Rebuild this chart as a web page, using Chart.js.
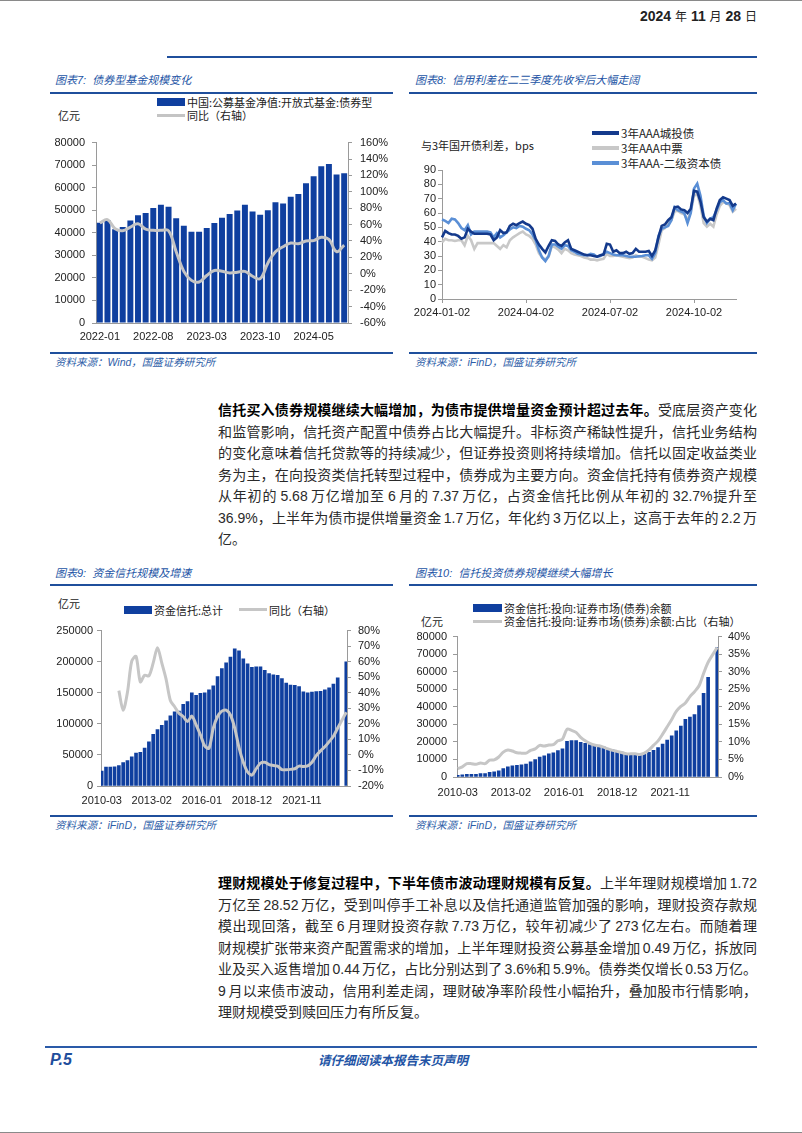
<!DOCTYPE html>
<html lang="zh-CN">
<head>
<meta charset="utf-8">
<title>信托与理财</title>
<script src="https://cdn.jsdelivr.net/npm/chart.js@4.4.1/dist/chart.umd.min.js"></script>
<style>
  html, body { margin: 0; padding: 0; background: #fff; }
  body { position: relative; width: 802px; height: 1133px; overflow: hidden; font-family: "Liberation Sans", "Noto Sans CJK SC", sans-serif; color: #222; }
  .edge { position: absolute; left: 0; width: 802px; height: 1px; background: #8a8a8a; }
  .rule { position: absolute; height: 2px; background: #1f4f9c; }
  .title { position: absolute; font-size: 11px; font-style: italic; color: #2354a5; line-height: 14px; white-space: nowrap; }
  .source { position: absolute; font-size: 10.5px; font-style: italic; color: #2e5ea8; line-height: 14px; white-space: nowrap; }
  .chart { position: absolute; }
  .lg { position: absolute; font-size: 11px; line-height: 14px; color: #222; white-space: nowrap; font-family: "Noto Sans CJK SC", sans-serif; }
  .sw { position: absolute; }
  .para { position: absolute; left: 218px; width: 539px; font-size: 14px; color: #2a2a2a; }
  .para div { height: 21.5px; line-height: 21.5px; white-space: nowrap; text-align: justify; text-align-last: justify; word-spacing: -1.5px; }
  .para div.last { text-align-last: left; }
  .para b { color: #000; }
</style>
</head>
<body>
<div class="edge" style="top:0"></div>
<div class="edge" style="top:1132px"></div>

<!-- header -->
<div style="position:absolute;right:45px;top:8px;font-size:14px;line-height:16px;white-space:nowrap;">
  <b>2024</b> <span style="font-size:12px">年</span> <b>11</b> <span style="font-size:12px">月</span> <b>28</b> <span style="font-size:12px">日</span>
</div>
<div class="rule" style="left:167px;width:590px;top:56px;"></div>

<!-- panel 7 -->
<div class="title" style="left:55px;top:73px;">图表7:&nbsp; 债券型基金规模变化</div>
<div class="rule" style="left:50px;width:343px;top:92px;"></div>
<div class="sw" style="left:157px;top:98px;width:28px;height:8px;background:#0f3f9f"></div>
<div class="lg" style="left:187px;top:95px;">中国:公募基金净值:开放式基金:债券型</div>
<div class="sw" style="left:157px;top:114px;width:28px;height:3px;background:#c4c4c4"></div>
<div class="lg" style="left:187px;top:108px;">同比（右轴）</div>
<div class="lg" style="left:58px;top:108px;">亿元</div>
<div class="chart" style="left:50px;top:128px;width:345px;height:222px;"><canvas id="fundChart"></canvas></div>
<div class="rule" style="left:50px;width:343px;top:352px;"></div>
<div class="source" style="left:55px;top:355px;">资料来源：Wind，国盛证券研究所</div>

<!-- panel 8 -->
<div class="title" style="left:415px;top:73px;">图表8:&nbsp; 信用利差在二三季度先收窄后大幅走阔</div>
<div class="rule" style="left:409px;width:348px;top:92px;"></div>
<div class="sw" style="left:592px;top:131px;width:27px;height:4px;background:#143a8c"></div>
<div class="lg" style="left:621px;top:126px;font-size:11.5px;">3年AAA城投债</div>
<div class="sw" style="left:592px;top:146px;width:27px;height:4px;background:#c8c8c8"></div>
<div class="lg" style="left:621px;top:141px;font-size:11.5px;">3年AAA中票</div>
<div class="sw" style="left:592px;top:161px;width:27px;height:4px;background:#5a8fd6"></div>
<div class="lg" style="left:621px;top:156px;font-size:11.5px;">3年AAA-二级资本债</div>
<div class="lg" style="left:421px;top:138px;">与3年国开债利差，bps</div>
<div class="chart" style="left:405px;top:160px;width:352px;height:165px;"><canvas id="spreadChart"></canvas></div>
<div class="rule" style="left:409px;width:348px;top:352px;"></div>
<div class="source" style="left:415px;top:355px;">资料来源：iFinD，国盛证券研究所</div>

<!-- paragraph 1 -->
<div class="para" style="top:400px;">
  <div><b>信托买入债券规模继续大幅增加，为债市提供增量资金预计超过去年。</b>受底层资产变化</div>
  <div>和监管影响，信托资产配置中债券占比大幅提升。非标资产稀缺性提升，信托业务结构</div>
  <div>的变化意味着信托贷款等的持续减少，但证券投资则将持续增加。信托以固定收益类业</div>
  <div>务为主，在向投资类信托转型过程中，债券成为主要方向。资金信托持有债券资产规模</div>
  <div>从年初的 5.68 万亿增加至 6 月的 7.37 万亿，占资金信托比例从年初的 32.7%提升至</div>
  <div>36.9%，上半年为债市提供增量资金 1.7 万亿，年化约 3 万亿以上，这高于去年的 2.2 万</div>
  <div class="last">亿。</div>
</div>

<!-- panel 9 -->
<div class="title" style="left:55px;top:566px;">图表9:&nbsp; 资金信托规模及增速</div>
<div class="rule" style="left:50px;width:343px;top:584px;"></div>
<div class="lg" style="left:58px;top:596px;">亿元</div>
<div class="sw" style="left:124px;top:606px;width:28px;height:8px;background:#0f3f9f"></div>
<div class="lg" style="left:154px;top:603px;">资金信托:总计</div>
<div class="sw" style="left:239px;top:608px;width:28px;height:3px;background:#c6c6c6"></div>
<div class="lg" style="left:269px;top:603px;">同比（右轴）</div>
<div class="chart" style="left:50px;top:617px;width:345px;height:195px;"><canvas id="trustChart"></canvas></div>
<div class="rule" style="left:50px;width:343px;top:815px;"></div>
<div class="source" style="left:55px;top:818px;">资料来源：iFinD，国盛证券研究所</div>

<!-- panel 10 -->
<div class="title" style="left:415px;top:566px;">图表10:&nbsp; 信托投资债券规模继续大幅增长</div>
<div class="rule" style="left:409px;width:348px;top:584px;"></div>
<div class="sw" style="left:473px;top:604px;width:29px;height:8px;background:#0f3f9f"></div>
<div class="lg" style="left:504px;top:601px;">资金信托:投向:证券市场(债券)余额</div>
<div class="sw" style="left:473px;top:620px;width:29px;height:3px;background:#c6c6c6"></div>
<div class="lg" style="left:504px;top:614px;">资金信托:投向:证券市场(债券)余额:占比（右轴）</div>
<div class="lg" style="left:421px;top:614px;">亿元</div>
<div class="chart" style="left:405px;top:624px;width:352px;height:182px;"><canvas id="bondChart"></canvas></div>
<div class="rule" style="left:409px;width:348px;top:815px;"></div>
<div class="source" style="left:415px;top:818px;">资料来源：iFinD，国盛证券研究所</div>

<!-- paragraph 2 -->
<div class="para" style="top:873px;">
  <div><b>理财规模处于修复过程中，下半年债市波动理财规模有反复。</b>上半年理财规模增加 1.72</div>
  <div>万亿至 28.52 万亿，受到叫停手工补息以及信托通道监管加强的影响，理财投资存款规</div>
  <div>模出现回落，截至 6 月理财投资存款 7.73 万亿，较年初减少了 273 亿左右。而随着理</div>
  <div>财规模扩张带来资产配置需求的增加，上半年理财投资公募基金增加 0.49 万亿，拆放同</div>
  <div>业及买入返售增加 0.44 万亿，占比分别达到了 3.6%和 5.9%。债券类仅增长 0.53 万亿。</div>
  <div>9 月以来债市波动，信用利差走阔，理财破净率阶段性小幅抬升，叠加股市行情影响，</div>
  <div class="last">理财规模受到赎回压力有所反复。</div>
</div>

<!-- footer -->
<div class="rule" style="left:45px;width:712px;top:1046px;background:#2a5aa8"></div>
<div style="position:absolute;left:50px;top:1051px;font-size:16px;font-weight:bold;font-style:italic;color:#1f4e9c;line-height:18px;">P.5</div>
<div style="position:absolute;left:318px;top:1052px;font-size:12.5px;font-weight:bold;font-style:italic;color:#2354a5;line-height:16px;font-family:'Noto Sans CJK SC',sans-serif;">请仔细阅读本报告末页声明</div>

<script>
// ---- 图表7 债券型基金 ----
const fundMonths = ['2022-01','2022-02','2022-03','2022-04','2022-05','2022-06','2022-07','2022-08','2022-09','2022-10','2022-11','2022-12',
  '2023-01','2023-02','2023-03','2023-04','2023-05','2023-06','2023-07','2023-08','2023-09','2023-10','2023-11','2023-12',
  '2024-01','2024-02','2024-03','2024-04','2024-05','2024-06','2024-07','2024-08','2024-09'];
const fundScale = [44500,45700,41600,42600,45500,47800,48800,51000,52400,51600,46500,43100,
  40500,40500,42100,44400,46700,48300,49900,52400,49400,48000,50000,53600,
  53000,56000,57200,62000,65100,69500,70500,65900,66400];
const fundYoy = [62,66,55,52.5,57,61,54.5,53,53,52.5,27,3,
  -8,-10,-2,4,3,1,2,3,-3,-6,13,27,
  33,37.5,36.7,40,40.5,44.6,42,27,35];
const fundTickEvery = 7;

// ---- 图表8 信用利差 (2024, MMDD) ----
const spreadDays = ('0102 0105 0109 0112 0116 0119 0123 0126 0130 0202 0206 0209 0213 0216 0220 0223 0227 0301 0305 0308 ' +
  '0312 0315 0319 0322 0326 0329 0402 0405 0409 0412 0416 0419 0423 0426 0430 0503 0507 0510 0514 0517 0521 0524 0528 0531 ' +
  '0604 0607 0611 0614 0618 0621 0625 0628 0702 0705 0709 0712 0716 0719 0723 0726 0730 0802 0806 0809 0813 0816 0820 0823 ' +
  '0827 0830 0903 0906 0910 0913 0917 0920 0924 0927 1002 1004 1008 1011 1015 1018 1022 1025 1029 1101 1105 1108 1112 1115').split(' ');
const spreadTicks = ['2024-01-02', '2024-04-02', '2024-07-02', '2024-10-02'];
const spreadUrban = [43,47.5,46,45,45,44,42,43,49,47,45.5,45.5,45.5,45.5,45.5,45,41,43,48,46,
  46.5,51,52.5,51.5,53,54,52.5,51.5,49,42,38,35,32.5,37,41,40.5,38,37,39.5,41,
  35,34,33,32,31,30.5,30.5,30,29.5,30.5,31,38.5,38,33,34,32,32,33,31.5,32,
  35,33,33,33,33.5,30,34,43,51,52,55,57,64,64.5,62.5,62,60,63,75.5,75,
  68,57,54,56,55,63,69,71,70,69,65,66.5];
const spreadMtn = [39.5,42,41,41,40.5,41,41,37.5,44,41,35,39,39,39,39,39,39,37,35,37.5,
  36,41,43,44.5,46,47,45,44,42,38,32,29,27.5,29.5,37,36,34.5,32,35,34,
  32,31,30.5,30,29,28.5,27.5,27.5,27,27.5,28,31.5,30,30,30.5,30,29.5,29,28.5,29,
  30.5,29.5,29.5,28.5,27.5,27,29,38,48,49.5,53,55,61,61.5,60,59,55,61,72,73.5,
  65,53,50.5,52.5,50.5,59,65,67.5,67,65.5,61,63];
const spreadBank = [55.5,54.5,53,56,55.5,53,49.5,48,51.5,45,47,47,47,47,47,46.5,43,46,43,44.5,
  46.5,48.5,50,49.5,51,50.5,49,48,45,41,34,29,26.5,30,38,38,36.5,35,37.5,37,
  34,33,31.5,31,30.5,30.5,31.5,31,29.5,30,31.5,33,32,31,30.5,30.5,30.5,30,29.5,29.5,
  29.5,29.8,30,30.5,30.5,28,32,44,49,50,51,55,64,62,61,60,53,60,77,80.5,
  72,58,53,56,57,62,67.5,69,66.5,67,62,66.5];

// ---- 图表9/10 资金信托 (季度, 2010-03 至 2024-06) ----
const trustStart = '2010-03';
const trustEnd = '2024-06';
const trustTicks = ['2010-03', '2013-02', '2016-01', '2018-12', '2021-11'];
const trustTotal = [24000,30400,30400,31000,33000,37700,41000,47000,53000,54000,
  61000,71000,83000,90700,97500,105000,112700,119500,120500,131500,
  136000,150000,146000,149000,150000,154600,161000,176000,189000,198000,
  207500,220600,217500,204400,196500,191000,191800,191800,186000,181000,
  178700,178000,173000,165600,162500,162000,160000,151500,150000,151000,
  152000,152500,154600,157800,164000,174000,null,199700];
const trustYoy = [null,null,null,null,41.4,28.8,40.3,60.3,63.4,47,
  51.3,50.9,59.2,69,59.2,48.8,35,31,26.8,24.7,
  21.5,25,19.4,13,5.8,4.3,17.3,24.7,28.2,28.8,
  25.7,17.3,4.7,-4.7,-11,-13,-8.9,-5.3,-4.7,-6.2,
  -6.8,-7.2,-9.5,-9.5,-9.3,-8.9,-7.2,-7.4,-7,-4.7,
  -0.5,2.6,5.2,8.5,12,17.3,null,27.5];
const trustBond = [900,1300,1500,1500,1500,1900,2000,2600,3000,3500,
  4800,5800,6300,6700,6900,7300,8600,9900,11400,12000,
  13200,13800,15100,16000,20300,20700,20700,19800,19200,18500,
  18300,17900,17300,16000,15500,14500,14200,12800,13000,12800,
  12800,13000,14000,15200,16800,18800,21000,23500,26300,29000,
  32800,34100,35600,40700,47700,56800,null,73700];
const trustBondShare = [2.4,2.9,3.8,3.8,3.6,4,3.8,4.8,4.9,5.7,
  7.1,7.7,7.4,6.9,6.8,6.8,7.6,8,9,8.8,
  9.1,9.2,10.3,10.8,13.6,13.3,12.7,11.3,10.3,9.6,
  9.1,8.9,8.5,8,7.6,7.3,7,6.6,6.6,6.6,
  6.4,6.8,7.7,9,10.3,12.2,14.3,16.4,18.7,20.1,
  21.1,22.9,24.3,26,29.5,32.7,null,36.9];

// common styles
const tickFont = { family: '"Liberation Sans", Arial, sans-serif', size: 11 };
const tickColor = '#222';
const axisGray = '#9a9a9a';
const barBlue = '#0f3f9f';
const lineGray = '#c4c4c4';

Chart.defaults.animation = false;
Chart.defaults.plugins.legend.display = false;
Chart.defaults.plugins.tooltip.enabled = false;

// build monthly axis for quarterly series
function monthRange(start, end) {
    let [y, m] = start.split('-').map(Number);
    const out = [];
    while (true) {
        const s = y + '-' + String(m).padStart(2, '0');
        out.push(s);
        if (s === end) break;
        m++;
        if (m > 12) { m = 1; y++; }
    }
    return out;
}
const trustMonths = monthRange(trustStart, trustEnd);
const toMonthly = arr => trustMonths.map((_, i) => (i % 3 === 0 ? arr[i / 3] : null));

function yAxis(position, min, max, step, width, pad, fmt) {
    return {
        position: position,
        min: min,
        max: max,
        ticks: { stepSize: step, autoSkip: false, padding: pad, font: tickFont, color: tickColor, callback: fmt },
        grid: { drawOnChartArea: false, tickLength: 4, color: axisGray },
        border: { color: axisGray },
        afterFit: s => { s.width = width; }
    };
}

function xAxis(labels, shown, height, pad, marks) {
    return {
        grid: marks ? { drawOnChartArea: false, tickLength: 4, color: axisGray } : { display: false, drawTicks: false },
        border: { display: true, color: axisGray },
        ticks: {
            autoSkip: false, maxRotation: 0, minRotation: 0, padding: pad, font: tickFont, color: tickColor,
            callback: (v, i) => (shown(labels[i], i) ? labels[i] : null)
        },
        afterFit: s => { s.height = height; }
    };
}

const plain = v => String(v);
const pct = v => v + '%';

// Chart 7
function createFundChart() {
    new Chart(document.getElementById('fundChart'), {
        type: 'bar',
        data: {
            labels: fundMonths,
            datasets: [
                { type: 'line', label: '同比（右轴）', data: fundYoy, yAxisID: 'y1', borderColor: lineGray, borderWidth: 3, pointRadius: 0, tension: 0.4, order: 0 },
                { label: '中国:公募基金净值:开放式基金:债券型', data: fundScale, yAxisID: 'y', backgroundColor: barBlue, barPercentage: 0.78, categoryPercentage: 1, order: 1 }
            ]
        },
        options: {
            responsive: true,
            maintainAspectRatio: false,
            layout: { padding: { top: 10, left: 0, right: 0, bottom: 0 } },
            scales: {
                x: xAxis(fundMonths, (l, i) => i % fundTickEvery === 0, 27, 7, false),
                y: yAxis('left', 0, 80000, 10000, 46, 7, plain),
                y1: yAxis('right', -60, 160, 20, 47, 8, pct)
            }
        }
    });
}

// Chart 8
function createSpreadChart() {
    const labels = spreadDays.map(d => '2024-' + d.slice(0, 2) + '-' + d.slice(2));
    new Chart(document.getElementById('spreadChart'), {
        type: 'line',
        data: {
            labels: labels,
            datasets: [
                { label: '3年AAA城投债', data: spreadUrban, borderColor: '#143a8c', borderWidth: 2.6, pointRadius: 0, tension: 0 },
                { label: '3年AAA-二级资本债', data: spreadBank, borderColor: '#5a8fd6', borderWidth: 2.6, pointRadius: 0, tension: 0 },
                { label: '3年AAA中票', data: spreadMtn, borderColor: '#c8c8c8', borderWidth: 2.6, pointRadius: 0, tension: 0 }
            ]
        },
        options: {
            responsive: true,
            maintainAspectRatio: false,
            layout: { padding: { top: 10, left: 0, right: 21, bottom: 0 } },
            scales: {
                x: xAxis(labels, l => spreadTicks.includes(l), 26, 3, true),
                y: yAxis('left', 0, 90, 10, 37, 2, plain)
            }
        }
    });
}

// Chart 9 / 10 share the monthly axis
function createTrustChart(id, bars, line, leftMax, leftStep, rightMin, rightMax, rightStep, widths, xHeight, xPad) {
    new Chart(document.getElementById(id), {
        type: 'bar',
        data: {
            labels: trustMonths,
            datasets: [
                { type: 'line', data: toMonthly(line), yAxisID: 'y1', borderColor: '#c6c6c6', borderWidth: 3, pointRadius: 0, tension: 0.3, spanGaps: true, order: 0 },
                { data: toMonthly(bars), yAxisID: 'y', backgroundColor: barBlue, barThickness: 3, order: 1 }
            ]
        },
        options: {
            responsive: true,
            maintainAspectRatio: false,
            layout: { padding: { top: 10, left: 0, right: 0, bottom: 0 } },
            scales: {
                x: xAxis(trustMonths, l => trustTicks.includes(l), xHeight, xPad, false),
                y: yAxis('left', 0, leftMax, leftStep, widths[0], widths[2], plain),
                y1: yAxis('right', rightMin, rightMax, rightStep, widths[1], widths[3], pct)
            }
        }
    });
}

document.addEventListener('DOMContentLoaded', function() {
    createFundChart();
    createSpreadChart();
    createTrustChart('trustChart', trustTotal, trustYoy, 250000, 50000, -20, 80, 10, [51, 48, 4, 7], 26, 8);
    createTrustChart('bondChart', trustBond, trustBondShare, 80000, 10000, 0, 40, 5, [52, 39, 6, 6], 29, 9);
});
</script>
</body>
</html>
